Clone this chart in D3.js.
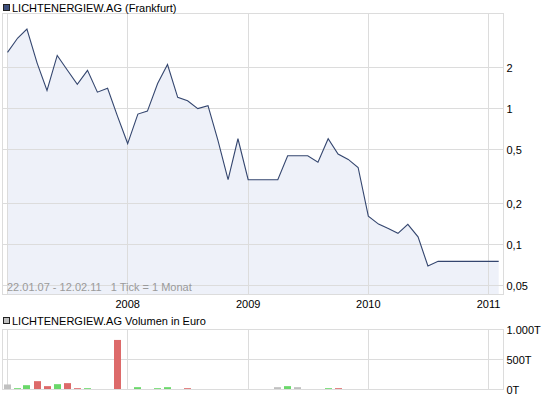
<!DOCTYPE html>
<html><head><meta charset="utf-8">
<script src="https://cdn.jsdelivr.net/npm/d3@7"></script>
<style>
body{margin:0;background:#fff}
svg{display:block}
text{font-family:"Liberation Sans",Arial,sans-serif;font-size:11px;fill:#000}
</style>
</head><body>
<svg id="c" width="545" height="398"></svg>
<script>
const months = ["2007-01","2007-02","2007-03","2007-04","2007-05","2007-06","2007-07","2007-08","2007-09","2007-10","2007-11","2007-12",
"2008-01","2008-02","2008-03","2008-04","2008-05","2008-06","2008-07","2008-08","2008-09","2008-10","2008-11","2008-12",
"2009-01","2009-02","2009-03","2009-04","2009-05","2009-06","2009-07","2009-08","2009-09","2009-10","2009-11","2009-12",
"2010-01","2010-02","2010-03","2010-04","2010-05","2010-06","2010-07","2010-08","2010-09","2010-10","2010-11","2010-12",
"2011-01","2011-02"];
const price = [2.59,3.30,3.84,2.16,1.36,2.46,1.93,1.51,1.91,1.32,1.41,0.88,
0.553,0.911,0.958,1.53,2.11,1.21,1.14,1.00,1.05,0.586,0.30,0.60,
0.30,0.30,0.30,0.30,0.45,0.45,0.45,0.404,0.60,0.463,0.423,0.369,
0.162,0.1415,0.1316,0.121,0.141,0.114,0.0696,0.0753,0.0753,0.0753,0.0753,0.0753,
0.0753,0.0753];
// volume in thousand euro (T)
const volume = [84,22,72,139,56,89,106,22,22,0,0,826,
0,39,0,22,39,0,22,0,0,0,0,0,
0,0,0,39,56,39,0,0,22,22,0,0,
0,0,0,0,0,0,0,0,0,0,0,0,
0,0];
const volDir = ["flat","up","up","down","down","up","down","down","up","flat","flat","down",
"flat","up","flat","up","up","flat","down","flat","flat","flat","flat","flat",
"flat","flat","flat","flat","up","flat","flat","flat","up","down","flat","flat",
"flat","flat","flat","flat","flat","flat","flat","flat","flat","flat","flat","flat",
"flat","flat"];
const priceTicks = [2,1,0.5,0.2,0.1,0.05];
const priceTickLabels = ["2","1","0,5","0,2","0,1","0,05"];
const volTicks = [0,500,1000];
const volTickLabels = ["0T","500T","1.000T"];
const yearTicks = ["2007","2008","2009","2010","2011"];
const yearLabels = ["","2008","2009","2010","2011"];
const title1 = "LICHTENERGIEW.AG (Frankfurt)";
const title2 = "LICHTENERGIEW.AG Volumen in Euro";
const rangeText = "22.01.07 - 12.02.11   1 Tick = 1 Monat";

const parseM = d3.utcParse("%Y-%m");
const parseY = d3.utcParse("%Y");
const dates = months.map(parseM);

const svg = d3.select("#c");
const L = 2.5, R = 503.5;
const T1 = 13.5, B1 = 294.5;
const T2 = 329.5, B2 = 389.5;
const grid = "#dcdcdc";
const crisp = v => Math.floor(v) + 0.5;

const x = d3.scaleUtc().domain([parseM("2007-01"), parseM("2011-02")]).range([7.5, 498.7]);
const y = d3.scaleLog().domain([0.04296, 5.0]).range([B1, T1]);
const yv = d3.scaleLinear().domain([0, 1000]).range([B2, T2]);

// ---------- price panel ----------
const data = dates.map((d, i) => ({d, v: price[i]}));
const area = d3.area().x(p => x(p.d)).y0(B1).y1(p => y(p.v));
const line = d3.line().x(p => x(p.d)).y(p => y(p.v));

svg.append("path").datum(data).attr("d", area).attr("fill", "#eef1f9");

const g1 = svg.append("g").attr("stroke", grid).attr("stroke-width", 1).attr("fill", "none").attr("shape-rendering", "crispEdges");
g1.selectAll(".hy").data(priceTicks).join("line")
  .attr("x1", L).attr("x2", R).attr("y1", d => crisp(y(d))).attr("y2", d => crisp(y(d)));
g1.selectAll(".vx").data(yearTicks).join("line")
  .attr("x1", d => crisp(x(parseY(d)))).attr("x2", d => crisp(x(parseY(d)))).attr("y1", T1).attr("y2", B1);
g1.append("rect").attr("x", L).attr("y", T1).attr("width", R - L).attr("height", B1 - T1);

svg.append("path").datum(data).attr("d", line).attr("fill", "none").attr("stroke", "#34466f").attr("stroke-width", 1.1);

svg.selectAll(".py").data(priceTicks).join("text")
  .attr("x", 506.5).attr("y", d => crisp(y(d)) + 4).text((d, i) => priceTickLabels[i]);

svg.selectAll(".xl").data(yearTicks).join("text")
  .attr("x", d => x(parseY(d))).attr("y", 308).attr("text-anchor", "middle").text((d, i) => yearLabels[i]);

svg.append("text").attr("x", 7).attr("y", 291).attr("fill", "#999").style("fill", "#9a9a9a")
  .attr("xml:space", "preserve").style("white-space", "pre").text(rangeText);

// legend 1
svg.append("rect").attr("x", 3.5).attr("y", 4.5).attr("width", 6).attr("height", 6)
  .attr("fill", "#3d4f7c").attr("stroke", "#222").attr("shape-rendering", "crispEdges");
svg.append("text").attr("x", 12).attr("y", 11.5).text(title1);

// ---------- volume panel ----------
const g2 = svg.append("g").attr("stroke", grid).attr("stroke-width", 1).attr("fill", "none").attr("shape-rendering", "crispEdges");
g2.selectAll(".hv").data(volTicks).join("line")
  .attr("x1", L).attr("x2", R).attr("y1", d => crisp(yv(d))).attr("y2", d => crisp(yv(d)));
g2.selectAll(".vv").data(yearTicks).join("line")
  .attr("x1", d => crisp(x(parseY(d)))).attr("x2", d => crisp(x(parseY(d)))).attr("y1", T2).attr("y2", B2);
g2.append("rect").attr("x", L).attr("y", T2).attr("width", R - L).attr("height", B2 - T2);

const colors = {up: "#6ad86a", down: "#dd6a6a", flat: "#c0c0c0"};
const vdata = dates.map((d, i) => ({d, v: volume[i], c: volDir[i]})).filter(p => p.v > 0);
svg.selectAll(".bar").data(vdata).join("rect")
  .attr("x", p => Math.round(x(p.d) - 3.5)).attr("width", 7)
  .attr("y", p => yv(p.v)).attr("height", p => B2 - 0.5 - yv(p.v))
  .attr("fill", p => colors[p.c]);

svg.selectAll(".vy").data(volTicks).join("text")
  .attr("x", 506.5).attr("y", d => crisp(yv(d)) + 4).text((d, i) => volTickLabels[i]);

svg.append("rect").attr("x", 3.5).attr("y", 317.5).attr("width", 6).attr("height", 6)
  .attr("fill", "#c0c0c0").attr("stroke", "#222").attr("shape-rendering", "crispEdges");
svg.append("text").attr("x", 12).attr("y", 324.5).text(title2);
</script>
</body></html>
